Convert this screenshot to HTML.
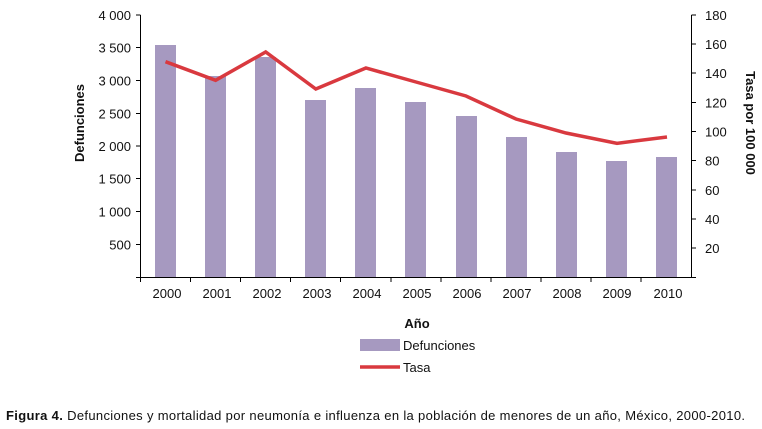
<!DOCTYPE html>
<html><head><meta charset="utf-8"><style>
body{margin:0;background:#fff;}
svg{display:block;font-family:"Liberation Sans",Arial,sans-serif;}
</style></head><body>
<svg width="762" height="429" viewBox="0 0 762 429" xmlns="http://www.w3.org/2000/svg">
<g fill="#a699c0">
<rect x="155" y="45" width="21" height="232"/>
<rect x="205" y="76" width="21" height="201"/>
<rect x="255" y="57" width="21" height="220"/>
<rect x="305" y="100" width="21" height="177"/>
<rect x="355" y="88" width="21" height="189"/>
<rect x="405" y="102" width="21" height="175"/>
<rect x="456" y="116" width="21" height="161"/>
<rect x="506" y="137" width="21" height="140"/>
<rect x="556" y="152" width="21" height="125"/>
<rect x="606" y="161" width="21" height="116"/>
<rect x="656" y="157" width="21" height="120"/>
</g>
<polyline fill="none" stroke="#d9393f" stroke-width="3.5" points="165.5,61.7 215.6,80.3 265.7,52 315.8,89 365.9,68 416,82 466,96 516,119 566,133 617,143.3 667,137"/>
<g stroke="#000" stroke-width="1">
<line x1="140.5" y1="14.7" x2="140.5" y2="277"/>
<line x1="691.5" y1="14.7" x2="691.5" y2="277"/>
<line x1="136" y1="277.5" x2="696" y2="277.5"/>
</g>
<g stroke="#000" stroke-width="1">
<line x1="136" y1="15" x2="140" y2="15"/><line x1="136" y1="47.5" x2="140" y2="47.5"/><line x1="136" y1="80.5" x2="140" y2="80.5"/><line x1="136" y1="113.5" x2="140" y2="113.5"/><line x1="136" y1="146" x2="140" y2="146"/><line x1="136" y1="178.5" x2="140" y2="178.5"/><line x1="136" y1="211.5" x2="140" y2="211.5"/><line x1="136" y1="244.5" x2="140" y2="244.5"/>
<line x1="692" y1="15" x2="696" y2="15"/><line x1="692" y1="44" x2="696" y2="44"/><line x1="692" y1="73" x2="696" y2="73"/><line x1="692" y1="102.5" x2="696" y2="102.5"/><line x1="692" y1="131.5" x2="696" y2="131.5"/><line x1="692" y1="160.5" x2="696" y2="160.5"/><line x1="692" y1="190" x2="696" y2="190"/><line x1="692" y1="219" x2="696" y2="219"/><line x1="692" y1="248" x2="696" y2="248"/>
<line x1="190.5" y1="277" x2="190.5" y2="282"/><line x1="240.5" y1="277" x2="240.5" y2="282"/><line x1="290.5" y1="277" x2="290.5" y2="282"/><line x1="340.5" y1="277" x2="340.5" y2="282"/><line x1="391" y1="277" x2="391" y2="282"/><line x1="441" y1="277" x2="441" y2="282"/><line x1="491" y1="277" x2="491" y2="282"/><line x1="541" y1="277" x2="541" y2="282"/><line x1="591" y1="277" x2="591" y2="282"/><line x1="641" y1="277" x2="641" y2="282"/><line x1="140.5" y1="277" x2="140.5" y2="282"/>
</g>
<g font-size="13" fill="#111" text-anchor="end">
<text x="131" y="20">4 000</text><text x="131" y="52.5">3 500</text><text x="131" y="85.5">3 000</text><text x="131" y="118.5">2 500</text><text x="131" y="151">2 000</text><text x="131" y="183.5">1 500</text><text x="131" y="216.5">1 000</text><text x="131" y="249.5">500</text>
</g>
<g font-size="13" fill="#111" text-anchor="start">
<text x="705" y="20">180</text><text x="705" y="49">160</text><text x="705" y="78">140</text><text x="705" y="107.5">120</text><text x="705" y="136.5">100</text><text x="705" y="165.5">80</text><text x="705" y="195">60</text><text x="705" y="224">40</text><text x="705" y="253">20</text>
</g>
<g font-size="13" fill="#111" text-anchor="middle">
<text x="167" y="298">2000</text><text x="217" y="298">2001</text><text x="267" y="298">2002</text><text x="317" y="298">2003</text><text x="367" y="298">2004</text><text x="417" y="298">2005</text><text x="467" y="298">2006</text><text x="517" y="298">2007</text><text x="567" y="298">2008</text><text x="617" y="298">2009</text><text x="668" y="298">2010</text>
</g>
<text x="417" y="328" font-size="13" font-weight="bold" text-anchor="middle" fill="#111">Año</text>
<text transform="translate(84,123) rotate(-90)" font-size="13" font-weight="bold" text-anchor="middle" fill="#111">Defunciones</text>
<text transform="translate(746,123) rotate(90)" font-size="13" font-weight="bold" text-anchor="middle" fill="#111">Tasa por 100 000</text>
<rect x="360" y="339" width="40" height="12" fill="#a699c0"/>
<text x="403" y="350" font-size="13" fill="#111">Defunciones</text>
<line x1="360" y1="367" x2="400" y2="367" stroke="#d9393f" stroke-width="3.5"/>
<text x="403" y="372" font-size="13" fill="#111">Tasa</text>
<text x="6" y="420" font-size="13" fill="#111" textLength="739" lengthAdjust="spacing"><tspan font-weight="bold">Figura 4.</tspan> Defunciones y mortalidad por neumonía e influenza en la población de menores de un año, México, 2000-2010.</text>
</svg>
</body></html>
